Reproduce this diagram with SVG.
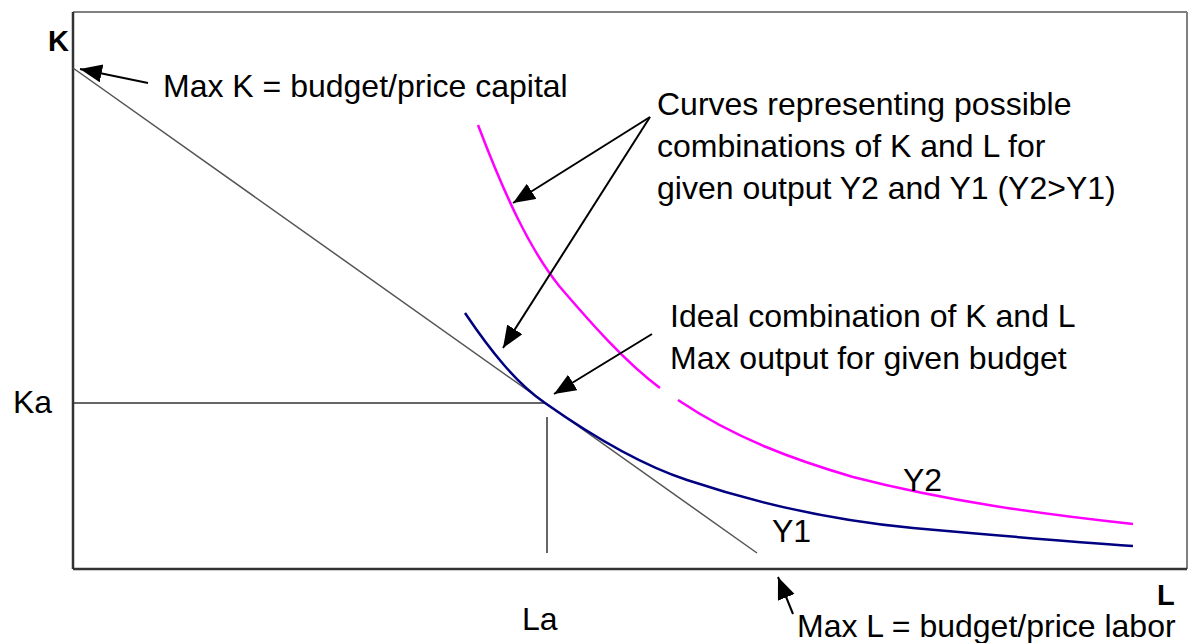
<svg xmlns="http://www.w3.org/2000/svg" width="1197" height="643" viewBox="0 0 1197 643">
<style>
.t{font-family:"Liberation Sans",Arial,sans-serif;font-size:32px;fill:#000}
.b{font-family:"Liberation Sans",Arial,sans-serif;font-size:29px;font-weight:bold;fill:#000}
.ar{stroke:#000;stroke-width:2;fill:none;marker-end:url(#ah)}
.guide{stroke:#333;stroke-width:1.5;fill:none}
</style>
<defs>
<marker id="ah" markerUnits="userSpaceOnUse" markerWidth="24" markerHeight="20" refX="22" refY="9" orient="auto">
<path d="M0,0 L22,9 L0,18 z" fill="#000"/>
</marker>
</defs>
<rect width="1197" height="643" fill="#fff"/>
<g id="frame">
<line x1="73" y1="12" x2="1187" y2="12" stroke="#808080" stroke-width="2"/>
<line x1="1187" y1="12" x2="1187" y2="569" stroke="#808080" stroke-width="2"/>
<line x1="73" y1="12" x2="73" y2="569" stroke="#333" stroke-width="2.5"/>
<line x1="73" y1="569" x2="1187" y2="569" stroke="#333" stroke-width="2.5"/>
</g>
<g id="budget-line">
<line x1="73" y1="68" x2="757" y2="553" stroke="#555" stroke-width="1.5"/>
</g>
<g id="guides">
<line class="guide" x1="73" y1="403" x2="545" y2="403"/>
<line class="guide" x1="547" y1="417" x2="547" y2="553"/>
</g>
<g id="Y1">
<path d="M465,313 C490,350 515,382 545,403 C592,436 640,464.5 687,480 C762,505 838,521 913,528 C986,534.5 1060,541 1133,546" fill="none" stroke="#000080" stroke-width="2.5"/>
</g>
<g id="Y2">
<path d="M478,125 C505,196 530,250 560,287 C590,322 625,362 660,388" fill="none" stroke="#ff00ff" stroke-width="2.5"/>
<path d="M678,400 C736,439 795,460 853,477 C946,501 1040,514 1133,524" fill="none" stroke="#ff00ff" stroke-width="2.5"/>
</g>
<g id="connectors">
<line class="ar" x1="148" y1="83" x2="80" y2="69"/>
<line class="ar" x1="650" y1="117" x2="513" y2="203"/>
<line class="ar" x1="650" y1="117" x2="503" y2="348"/>
<line class="ar" x1="652" y1="334" x2="554" y2="394"/>
<line class="ar" x1="793" y1="614" x2="778" y2="577"/>
</g>
<g id="labels">
<text class="b" x="48" y="51">K</text>
<text class="b" x="1157" y="605">L</text>
<text class="t" x="163" y="97">Max K = budget/price capital</text>
<text class="t" x="657" y="115">Curves representing possible</text>
<text class="t" x="657" y="157">combinations of K and L for</text>
<text class="t" x="657" y="199">given output Y2 and Y1 (Y2&gt;Y1)</text>
<text class="t" x="670" y="327">Ideal combination of K and L</text>
<text class="t" x="670" y="369">Max output for given budget</text>
<text class="t" x="13" y="413">Ka</text>
<text class="t" x="522" y="630">La</text>
<text class="t" x="772" y="542">Y1</text>
<text class="t" x="903" y="491">Y2</text>
<text class="t" x="797" y="637">Max L = budget/price labor</text>
</g>
</svg>
